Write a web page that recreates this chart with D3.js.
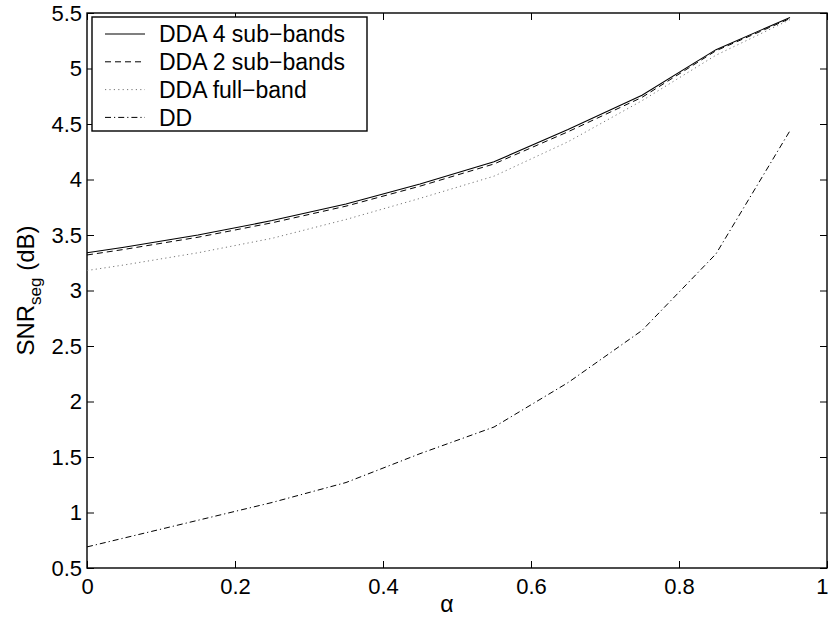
<!DOCTYPE html>
<html>
<head>
<meta charset="utf-8">
<script src="https://cdn.jsdelivr.net/npm/d3@7"></script>
<style>
  body { margin: 0; background: #fff; }
  text { font-family: 'Liberation Sans', Arial, Helvetica, sans-serif; fill: #000; }
</style>
</head>
<body>
<div id="chart"></div>
<script>
// alpha values the curves were computed at
const alphas = [0, 0.05, 0.15, 0.25, 0.35, 0.45, 0.55, 0.65, 0.75, 0.85, 0.95]

const dda4 = [3.34, 3.39, 3.50, 3.63, 3.78, 3.96, 4.16, 4.45, 4.76, 5.17, 5.46]
const dda2 = [3.32, 3.37, 3.48, 3.61, 3.76, 3.94, 4.14, 4.43, 4.74, 5.16, 5.45]
const ddaFull = [3.18, 3.23, 3.34, 3.47, 3.64, 3.83, 4.03, 4.34, 4.71, 5.12, 5.44]
const dd = [0.69, 0.77, 0.93, 1.09, 1.27, 1.53, 1.77, 2.17, 2.64, 3.33, 4.44]

const seriesNames = ['DDA 4 sub\u2212bands', 'DDA 2 sub\u2212bands', 'DDA full\u2212band', 'DD']

const xTicks = [0, 0.2, 0.4, 0.6, 0.8, 1]
const yTicks = [0.5, 1, 1.5, 2, 2.5, 3, 3.5, 4, 4.5, 5, 5.5]

const margin = { top: 13, right: 1, bottom: 50, left: 87 }
const width = 828 - margin.left - margin.right
const height = 618 - margin.top - margin.bottom

const svg = d3
  .select('#chart')
  .append('svg')
  .attr('width', 828)
  .attr('height', 618)

const g = svg
  .append('g')
  .attr('transform', 'translate(' + margin.left + ',' + margin.top + ')')

const x = d3.scaleLinear().domain([0, 1]).range([0, width])
const y = d3.scaleLinear().domain([0.5, 5.5]).range([height, 0])

// line styles, same order as the series
const styles = [
  { stroke: '#000', dash: null, width: 1.1 },
  { stroke: '#000', dash: '6,4', width: 1 },
  { stroke: '#777', dash: '1.2,3.2', width: 1 },
  { stroke: '#000', dash: '6,3,1.2,3', width: 1 }
]

const series = [dda4, dda2, ddaFull, dd]

// axes: ticks point inwards on all four sides
const fmt = d => d3.format('~g')(d)

g.append('g')
  .attr('class', 'x-axis')
  .attr('transform', 'translate(0,' + height + ')')
  .call(d3.axisBottom(x).tickValues(xTicks).tickSize(-7).tickPadding(10).tickFormat(fmt))

g.append('g')
  .attr('class', 'x-axis-top')
  .call(d3.axisTop(x).tickValues(xTicks).tickSize(-7).tickFormat(''))

g.append('g')
  .attr('class', 'y-axis')
  .call(d3.axisLeft(y).tickValues(yTicks).tickSize(-7).tickPadding(5).tickFormat(fmt))

g.append('g')
  .attr('class', 'y-axis-right')
  .attr('transform', 'translate(' + width + ',0)')
  .call(d3.axisRight(y).tickValues(yTicks).tickSize(-7).tickFormat(''))

g.selectAll('.domain').remove()
g.selectAll('.tick line').attr('stroke', '#000').attr('stroke-width', 1)
g.selectAll('.tick text').attr('font-size', 22).attr('fill', '#000')

// last x label sits on the right edge of the page
g.selectAll('.x-axis .tick text')
  .filter(d => d === 1)
  .attr('text-anchor', 'end')
  .attr('dx', 1)

g.append('rect')
  .attr('width', width)
  .attr('height', height)
  .attr('fill', 'none')
  .attr('stroke', '#000')
  .attr('stroke-width', 1.4)

// the curves
const line = d3
  .line()
  .x((d, i) => x(alphas[i]))
  .y(d => y(d))

g.selectAll('.curve')
  .data(series)
  .enter()
  .append('path')
  .attr('class', 'curve')
  .attr('d', d => line(d))
  .attr('fill', 'none')
  .attr('stroke', (d, i) => styles[i].stroke)
  .attr('stroke-width', (d, i) => styles[i].width)
  .attr('stroke-dasharray', (d, i) => styles[i].dash)

// legend
const legend = g.append('g').attr('transform', 'translate(5,4)')

legend
  .append('rect')
  .attr('width', 275)
  .attr('height', 114)
  .attr('fill', '#fff')
  .attr('stroke', '#000')
  .attr('stroke-width', 1.4)

const rows = legend
  .selectAll('.row')
  .data(seriesNames)
  .enter()
  .append('g')
  .attr('class', 'row')
  .attr('transform', (d, i) => 'translate(0,' + (17 + i * 27.8) + ')')

rows
  .append('line')
  .attr('x1', 13)
  .attr('x2', 53)
  .attr('stroke', (d, i) => styles[i].stroke)
  .attr('stroke-width', (d, i) => styles[i].width)
  .attr('stroke-dasharray', (d, i) => styles[i].dash)

rows
  .append('text')
  .attr('x', 67)
  .attr('dy', '0.36em')
  .attr('font-size', 23)
  .text(d => d)

// axis titles
svg
  .append('text')
  .attr('x', margin.left + width / 2 - 10)
  .attr('y', 612)
  .attr('text-anchor', 'middle')
  .attr('font-size', 23)
  .text('\u03b1')

const yLabel = svg
  .append('text')
  .attr('transform', 'translate(34,' + (margin.top + height / 2) + ') rotate(-90)')
  .attr('text-anchor', 'middle')
  .attr('font-size', 24)

yLabel.append('tspan').text('SNR')
yLabel.append('tspan').attr('font-size', 17).attr('dy', 7).text('seg')
yLabel.append('tspan').attr('dy', -7).text(' (dB)')
</script>
</body>
</html>
